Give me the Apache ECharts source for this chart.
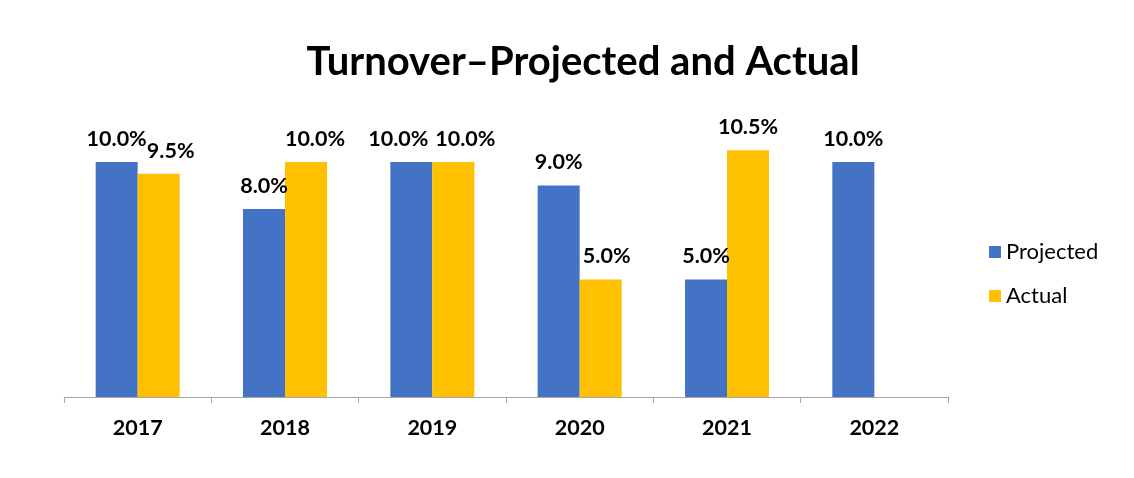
<!DOCTYPE html>
<html><head><meta charset="utf-8">
<script src="https://cdn.jsdelivr.net/npm/echarts@6/dist/echarts.min.js"></script>
<style>html,body{margin:0;padding:0;background:#fff}#c{width:1134px;height:478px}</style>
</head><body><div id="c"></div>
<script>
const categories = ['2017','2018','2019','2020','2021','2022'];
const projected = [10.0, 8.0, 10.0, 9.0, 5.0, 10.0];
const actual = [9.5, 10.0, 10.0, 5.0, 10.5, null];
const FONT = 'Lato';
// horizontal nudges of individual value labels (as placed in the original)
const projectedLabelShift = [0, 0, -13, 0, 0, 0];
const actualLabelShift = [12, 9, 12, 6, 0, 0];
const chart = echarts.init(document.getElementById('c'));
const lbl = {show:true, position:'top', distance:12, color:'#000', fontFamily:FONT, fontWeight:'bold', fontSize:21.5,
  formatter: p => p.value == null ? '' : p.value.toFixed(1) + '%'};
const items = (vals, shifts) => vals.map((v, i) => ({value: v, label: {offset: [shifts[i], 0]}}));
chart.setOption({
  animation:false,
  title:{text:'Turnover\u2013Projected and Actual', left:578, top:37, textAlign:'center',
    textStyle:{fontFamily:FONT, fontWeight:'bold', fontSize:40, color:'#000'}},
  legend:{orient:'vertical', left:984, top:236, itemWidth:12, itemHeight:12, itemGap:22,
    icon:'rect', textStyle:{fontFamily:FONT, fontSize:22, color:'#000'},
    data:['Projected','Actual']},
  grid:{left:64, right:186, top:115, bottom:81},
  xAxis:{type:'category', data:categories,
    axisLine:{lineStyle:{color:'#a6a6a6', width:1}},
    axisTick:{show:true, length:6, lineStyle:{color:'#a6a6a6'}},
    axisLabel:{color:'#000', fontFamily:FONT, fontWeight:'bold', fontSize:21.5, margin:20}},
  yAxis:{type:'value', min:0, max:12, show:false, splitLine:{show:false}},
  series:[
    {name:'Projected', type:'bar', data:items(projected, projectedLabelShift), barWidth:42, barGap:'0%', itemStyle:{color:'#4472C4'}, label:lbl},
    {name:'Actual', type:'bar', data:items(actual, actualLabelShift), barWidth:42, itemStyle:{color:'#FFC000'}, label:lbl}
  ]
});
</script></body></html>
